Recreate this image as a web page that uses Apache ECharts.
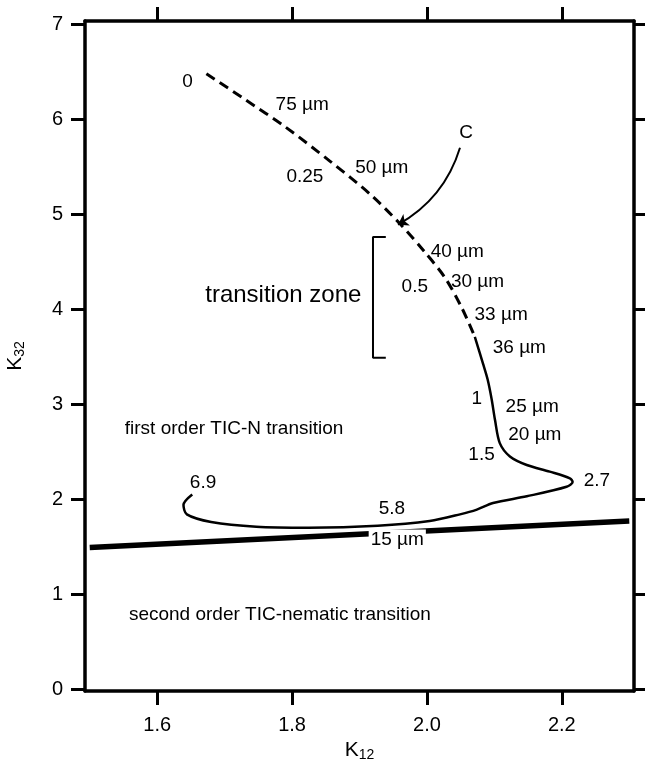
<!DOCTYPE html>
<html>
<head>
<meta charset="utf-8">
<title>K32 vs K12</title>
<script src="https://cdn.jsdelivr.net/npm/echarts/dist/echarts.min.js"></script>
<style>
    html, body { margin: 0; padding: 0; background: #fff; }
    #chart { width: 645px; height: 762px; }
</style>
</head>
<body>
<div id="chart"></div>
<script>
    // 轴刻度
    const xTicks = [1.6, 1.8, 2.0, 2.2]
    const yTicks = [0, 1, 2, 3, 4, 5, 6, 7]

    // 虚线段 (K12, K32)
    const dashedCurve = [
        [1.673, 6.48], [1.730, 6.21], [1.790, 5.92], [1.856, 5.56], [1.916, 5.21],
        [1.960, 4.90], [1.997, 4.60], [2.027, 4.33], [2.052, 4.01], [2.071, 3.71]
    ]
    // 实线段
    const solidCurve = [
        [2.071, 3.71], [2.083, 3.43], [2.090, 3.26], [2.096, 3.05], [2.101, 2.83],
        [2.108, 2.59], [2.123, 2.45], [2.148, 2.36], [2.182, 2.29], [2.212, 2.22],
        [2.216, 2.18], [2.207, 2.13], [2.148, 2.03], [2.098, 1.96], [2.074, 1.89],
        [2.049, 1.84], [2.004, 1.77], [1.927, 1.72], [1.825, 1.70], [1.747, 1.71],
        [1.680, 1.76], [1.644, 1.84], [1.639, 1.94], [1.652, 2.05]
    ]
    // 二级相变粗线
    const secondOrderLine = [[1.5, 1.49], [2.3, 1.77]]
    // 过渡区括号
    const bracket = [[1.939, 4.76], [1.920, 4.76], [1.920, 3.49], [1.939, 3.49]]
    // 箭头 C
    const arrowC = [[2.049, 5.70], [1.957, 4.89]]

    // 曲线上的标注 [K12, K32, 文本]
    const curveLabels = [
        [1.645, 6.40, '0'],
        [1.815, 6.15, '75 µm'],
        [1.819, 5.40, '0.25'],
        [1.933, 5.49, '50 µm'],
        [2.058, 5.86, 'C'],
        [2.045, 4.61, '40 µm'],
        [1.982, 4.24, '0.5'],
        [2.075, 4.29, '30 µm'],
        [2.110, 3.94, '33 µm'],
        [2.137, 3.59, '36 µm'],
        [2.074, 3.06, '1'],
        [2.156, 2.97, '25 µm'],
        [2.160, 2.68, '20 µm'],
        [2.081, 2.47, '1.5'],
        [2.252, 2.19, '2.7'],
        [1.668, 2.17, '6.9'],
        [1.948, 1.90, '5.8']
    ]
    const lineLabel = [[1.956, 1.57, '15 µm']]
    const zoneLabel = [[1.787, 4.15, 'transition zone']]
    const regionLabels = [
        [1.714, 2.74, 'first order TIC-N transition'],
        [1.782, 0.78, 'second order TIC-nematic transition']
    ]

    const font = 'Liberation Sans, Arial, Helvetica, sans-serif'

    function textSeries(data, fontSize, extra) {
        return {
            type: 'scatter',
            symbolSize: 0,
            silent: true,
            z: 10,
            itemStyle: { opacity: 1 },
            data: data,
            label: Object.assign({
                show: true,
                position: 'inside',
                color: '#000',
                opacity: 1,
                fontFamily: font,
                fontSize: fontSize,
                formatter: (p) => p.value[2]
            }, extra || {})
        }
    }

    const chart = echarts.init(document.getElementById('chart'), null, { renderer: 'canvas' })

    const axisLine = { show: true, onZero: false, lineStyle: { color: '#000', width: 3.5 } }
    const tick = (vals) => ({ show: true, inside: false, length: 14, lineStyle: { color: '#000', width: 3 }, customValues: vals })
    const nameRich = { k: { fontSize: 21, color: '#000' }, s: { fontSize: 14, color: '#000', verticalAlign: 'bottom', padding: [10, 0, 0, 0] } }

    chart.setOption({
        animation: false,
        textStyle: { fontFamily: font },
        grid: { left: 85, right: 11, top: 21, bottom: 71, outerBoundsMode: 'none', containLabel: false },
        xAxis: [
            {
                type: 'value', position: 'bottom', min: 1.493, max: 2.307,
                axisLine: axisLine, axisTick: tick(xTicks), splitLine: { show: false },
                axisLabel: {
                    show: true, customValues: xTicks, margin: 24, fontSize: 20, color: '#000',
                    formatter: (v) => v.toFixed(1)
                },
                name: '{k|K}{s|12}', nameLocation: 'middle', nameGap: 47,
                nameTextStyle: { rich: nameRich }
            },
            {
                type: 'value', position: 'top', min: 1.493, max: 2.307,
                axisLine: axisLine, axisTick: tick(xTicks), splitLine: { show: false },
                axisLabel: { show: false }
            }
        ],
        yAxis: [
            {
                type: 'value', position: 'left', min: -0.02, max: 7.035,
                axisLine: axisLine, axisTick: tick(yTicks), splitLine: { show: false },
                axisLabel: { show: true, customValues: yTicks, margin: 22, fontSize: 20, color: '#000' },
                name: '{k|K}{s|32}', nameLocation: 'middle', nameGap: 58,
                nameTextStyle: { rich: nameRich }
            },
            {
                type: 'value', position: 'right', min: -0.02, max: 7.035,
                axisLine: axisLine, axisTick: tick(yTicks), splitLine: { show: false },
                axisLabel: { show: false }
            }
        ],
        series: [
            {
                type: 'line', data: secondOrderLine, symbol: 'none',
                lineStyle: { color: '#000', width: 5.5 }
            },
            {
                type: 'line', data: dashedCurve, symbol: 'none', smooth: 0.3,
                lineStyle: { color: '#000', width: 3, type: [10, 6] }
            },
            {
                type: 'line', data: solidCurve, symbol: 'none', smooth: 0.3,
                lineStyle: { color: '#000', width: 2.5 }
            },
            {
                type: 'line', data: bracket, symbol: 'none',
                lineStyle: { color: '#000', width: 2 }
            },
            {
                type: 'lines', coordinateSystem: 'cartesian2d', symbol: ['none', 'arrow'], symbolSize: 10,
                lineStyle: { color: '#000', width: 2, opacity: 1, curveness: 0.2 },
                data: [{ coords: arrowC }]
            },
            textSeries(curveLabels, 19),
            textSeries(lineLabel, 19, { backgroundColor: '#fff', padding: [1, 2] }),
            textSeries(zoneLabel, 24),
            textSeries(regionLabels, 19)
        ]
    })
</script>
</body>
</html>
